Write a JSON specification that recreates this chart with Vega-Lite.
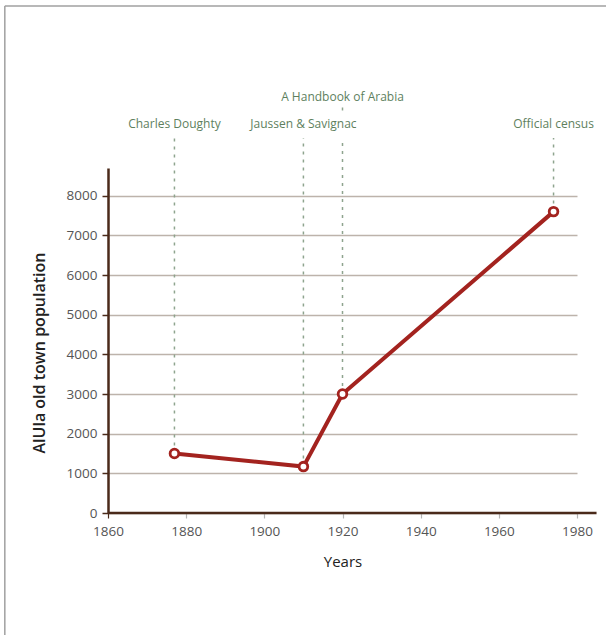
{
  "$schema": "https://vega.github.io/schema/vega-lite/v6.json",
  "autosize": {"type": "none"},
  "padding": {"left": 108, "top": 168, "right": 29, "bottom": 122},
  "width": 469,
  "height": 345,
  "background": "white",
  "config": {"font": "Open Sans", "view": {"stroke": null}},
  "data": {"values": [
    {"year": 1877, "population": 1500, "source": "Charles Doughty"},
    {"year": 1910, "population": 1170, "source": "Jaussen & Savignac"},
    {"year": 1920, "population": 3000, "source": "A Handbook of Arabia"},
    {"year": 1974, "population": 7600, "source": "Official census"}
  ]},
  "encoding": {
    "x": {"field": "year", "type": "quantitative",
      "scale": {"domain": [1860, 1980], "nice": false, "zero": false},
      "axis": {"values": [1860, 1880, 1900, 1920, 1940, 1960, 1980], "format": "d", "title": "Years",
        "domain": false, "grid": false, "tickSize": 5, "tickWidth": 1.2, "labelFlush": false,
        "tickColor": {"condition": {"test": "datum.value == 1860", "value": "#4a2a1a"}, "value": "#b5b5b5"},
        "labelColor": "#555555", "labelFontSize": 13.5, "labelPadding": 6,
        "titleFontSize": 15, "titleFontWeight": "normal", "titleColor": "#222222", "titlePadding": 17}},
    "y": {"field": "population", "type": "quantitative",
      "scale": {"domain": [0, 8700], "nice": false},
      "axis": {"values": [0, 1000, 2000, 3000, 4000, 5000, 6000, 7000, 8000], "format": "d",
        "title": "AlUla old town population",
        "domain": true, "domainColor": "#4a2a1a", "domainWidth": 2.5,
        "tickColor": "#4a2a1a", "tickSize": 6, "tickWidth": 1.5,
        "grid": true, "gridColor": "#bdb3ab", "gridWidth": 1.3,
        "labelColor": "#555555", "labelFontSize": 13.5, "labelPadding": 5,
        "titleFontSize": 16, "titleFontWeight": 600, "titleColor": "#222222", "titlePadding": 19, "titleY": 184.5}}
  },
  "layer": [
    {
      "mark": {"type": "rule", "color": "#8ea48e", "strokeWidth": 1.5, "strokeDash": [3, 5]},
      "encoding": {"y2": {"datum": 9457}}
    },
    {
      "transform": [{"filter": "datum.year == 1920"}],
      "mark": {"type": "rule", "color": "#8ea48e", "strokeWidth": 1.5, "strokeDash": [3, 4]},
      "encoding": {"y": {"datum": 10226}, "y2": {"datum": 10062}}
    },
    {
      "transform": [{"filter": "datum.year == 1877"}],
      "mark": {"type": "rule", "color": "#4a2a1a", "strokeWidth": 2.5},
      "encoding": {"x": {"datum": 1860}, "x2": {"datum": 1985}, "y": {"datum": 0}}
    },
    {
      "mark": {"type": "line", "color": "#a3231f", "strokeWidth": 4}
    },
    {
      "mark": {"type": "point", "shape": "circle", "filled": false, "fill": "white", "fillOpacity": 1, "stroke": "#a3231f", "strokeWidth": 2.8, "size": 75, "opacity": 1}
    },
    {
      "transform": [{"filter": "datum.year != 1920"}],
      "mark": {"type": "text", "color": "#5e7f5e", "fontSize": 12, "baseline": "middle", "align": "center"},
      "encoding": {"y": {"datum": 9810}, "text": {"field": "source"}}
    },
    {
      "transform": [{"filter": "datum.year == 1920"}],
      "mark": {"type": "text", "color": "#5e7f5e", "fontSize": 12, "baseline": "middle", "align": "center"},
      "encoding": {"y": {"datum": 10490}, "text": {"field": "source"}}
    },
    {
      "transform": [{"filter": "datum.year == 1877"}],
      "mark": {"type": "rule", "color": "#a0a0a0", "strokeWidth": 1.5},
      "encoding": {"x": {"datum": 1833.6}, "x2": {"datum": 1995}, "y": {"datum": 12785}}
    },
    {
      "transform": [{"filter": "datum.year == 1877"}],
      "mark": {"type": "rule", "color": "#a0a0a0", "strokeWidth": 1.5},
      "encoding": {"x": {"datum": 1833.6}, "y": {"datum": 12785}, "y2": {"datum": -3300}}
    }
  ]
}
